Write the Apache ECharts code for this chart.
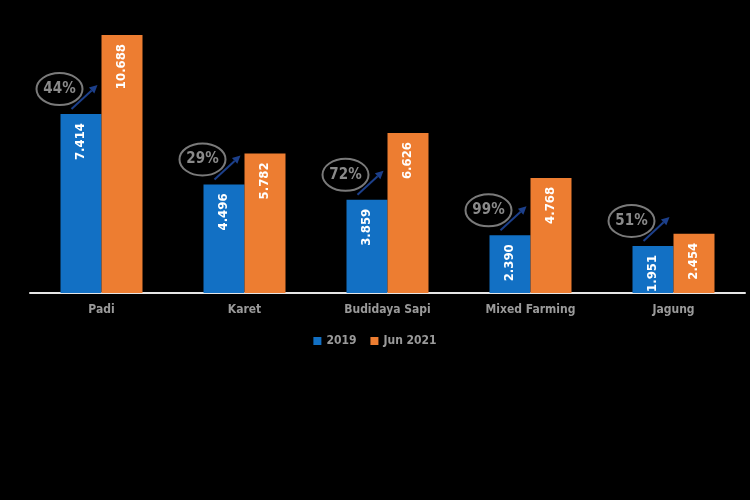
<!DOCTYPE html>
<html><head><meta charset="utf-8">
<script src="https://cdn.jsdelivr.net/npm/echarts@6/dist/echarts.min.js"></script>
<style>html,body{margin:0;padding:0;background:#000}#c{width:750px;height:500px}</style>
</head><body><div id="c"></div>
<script>
const categories = ['Padi', 'Karet', 'Budidaya Sapi', 'Mixed Farming', 'Jagung'];
const values2019 = [7.414, 4.496, 3.859, 2.390, 1.951];
const valuesJun2021 = [10.688, 5.782, 6.626, 4.768, 2.454];
const growthPct = ['44%', '29%', '72%', '99%', '51%'];
const seriesNames = ['2019', 'Jun 2021'];

const FONT = '"DejaVu Sans Condensed", "Liberation Sans Narrow", sans-serif';
const BLUE = '#1270c4', ORANGE = '#ed7d31';

const fmt = v => v.toFixed(3);
const valueLabel = {
  show: true, position: 'insideTop', rotate: 90, align: 'right', verticalAlign: 'middle',
  distance: 9, color: '#fff', fontFamily: FONT, fontWeight: 'bold', fontSize: 13,
  formatter: p => fmt(p.value)
};

const annData = categories.map((c, i) => [i, values2019[i], i]);

const chart = echarts.init(document.getElementById('c'));
chart.setOption({
  backgroundColor: '#000',
  animation: false,
  grid: { left: 30, right: 5, top: 35, bottom: 207 },
  legend: {
    data: seriesNames, top: 330, left: 'center', itemWidth: 8, itemHeight: 8, itemGap: 14,
    icon: 'rect',
    textStyle: { color: '#9a9a9a', fontFamily: FONT, fontWeight: 'bold', fontSize: 12 }
  },
  xAxis: {
    type: 'category', data: categories,
    axisLine: { lineStyle: { color: '#e6e6e6', width: 2 } },
    axisTick: { show: false },
    axisLabel: { color: '#9a9a9a', fontFamily: FONT, fontWeight: 'bold', fontSize: 12, margin: 11 }
  },
  yAxis: { type: 'value', min: 0, max: 'dataMax', show: false, splitLine: { show: false } },
  series: [
    { name: seriesNames[0], type: 'bar', data: values2019, barWidth: 41, barGap: '0%',
      itemStyle: { color: BLUE }, label: valueLabel },
    { name: seriesNames[1], type: 'bar', data: valuesJun2021, barWidth: 41, barGap: '0%',
      itemStyle: { color: ORANGE }, label: valueLabel },
    { type: 'custom', data: annData, silent: true, z: 5,
      renderItem: function (params, api) {
        const p = api.coord([api.value(0), api.value(1)]);
        const x = p[0], y = p[1];
        const x1 = x - 30, y1 = y - 5, x2 = x - 4, y2 = y - 29;
        const ang = Math.atan2(y2 - y1, x2 - x1);
        const L = 8, W = 4;
        const bx = x2 - L * Math.cos(ang), by = y2 - L * Math.sin(ang);
        const nx = -Math.sin(ang) * W, ny = Math.cos(ang) * W;
        return {
          type: 'group',
          children: [
            { type: 'ellipse', shape: { cx: x - 42, cy: y - 25, rx: 23, ry: 16 },
              style: { fill: 'none', stroke: '#7a7a7a', lineWidth: 2 } },
            { type: 'text', x: x - 42, y: y - 25,
              style: { text: growthPct[api.value(2)], fill: '#8a8a8a', font: 'bold 15px ' + FONT,
                       align: 'center', verticalAlign: 'middle' } },
            { type: 'line', shape: { x1: x1, y1: y1, x2: bx, y2: by },
              style: { stroke: '#1c3f8a', lineWidth: 2 } },
            { type: 'polygon', shape: { points: [[x2, y2], [bx + nx, by + ny], [bx - nx, by - ny]] },
              style: { fill: '#1c3f8a' } }
          ]
        };
      }
    }
  ]
});
</script></body></html>
